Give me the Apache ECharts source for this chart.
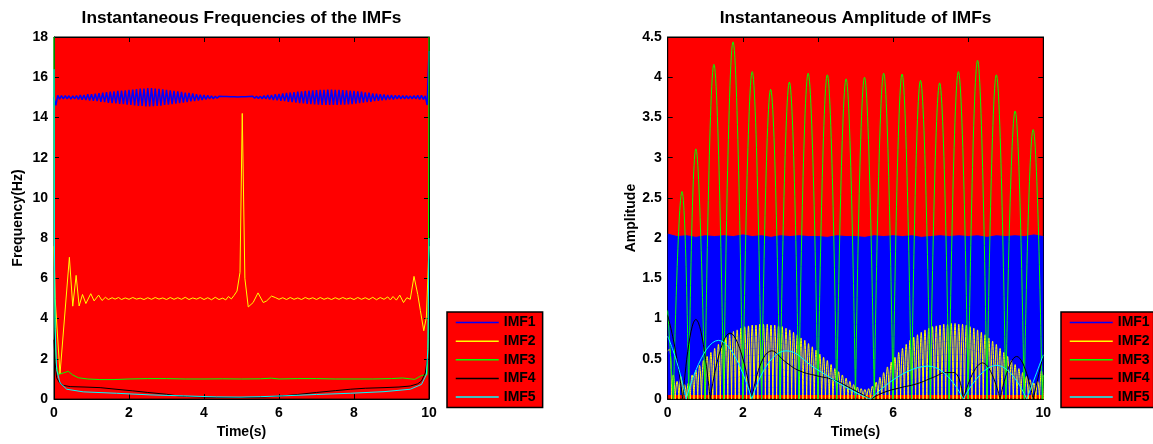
<!DOCTYPE html>
<html><head><meta charset="utf-8">
<script src="https://cdn.jsdelivr.net/npm/echarts@6/dist/echarts.min.js"></script>
<style>html,body{margin:0;padding:0;background:#fff}#c{width:1153px;height:444px}</style>
</head><body><div id="c"></div>
<script>
// ---------- data ----------
const imfNames = ['IMF1', 'IMF2', 'IMF3', 'IMF4', 'IMF5'];
const timeTicks = [0, 2, 4, 6, 8, 10];
const freqTicks = [0, 2, 4, 6, 8, 10, 12, 14, 16, 18];
const ampTicks = [0, 0.5, 1, 1.5, 2, 2.5, 3, 3.5, 4, 4.5];

// IMF1 instantaneous frequency, one value every 0.05 s from 0 to 10 s
const imf1FreqStep = 0.05;
const imf1Freq = [
15.00,14.60,15.10,14.91,15.09,14.92,15.08,14.93,15.08,14.91,15.07,14.93,15.09,14.90,15.11,14.88,15.12,14.87,15.15,14.84,
15.16,14.83,15.18,14.81,15.21,14.78,15.23,14.76,15.26,14.73,15.28,14.71,15.30,14.70,15.32,14.67,15.34,14.66,15.35,14.64,
15.37,14.63,15.39,14.60,15.41,14.58,15.43,14.57,15.44,14.55,15.46,14.55,15.46,14.56,15.43,14.58,15.42,14.59,15.40,14.62,
15.37,14.64,15.35,14.66,15.32,14.69,15.30,14.71,15.27,14.74,15.24,14.76,15.22,14.80,15.19,14.82,15.16,14.84,15.13,14.87,
15.11,14.89,15.10,14.92,15.07,14.93,15.06,14.95,15.05,14.96,15.04,14.96,15.04,14.97,15.03,14.97,15.03,14.97,15.02,14.98,
15.03,14.97,15.03,14.96,15.04,14.96,15.05,14.95,15.05,14.94,15.06,14.93,15.08,14.92,15.11,14.89,15.12,14.87,15.15,14.85,
15.17,14.83,15.19,14.81,15.22,14.78,15.24,14.76,15.26,14.74,15.29,14.71,15.30,14.70,15.32,14.68,15.34,14.66,15.35,14.65,
15.36,14.64,15.37,14.63,15.37,14.63,15.38,14.62,15.38,14.63,15.37,14.63,15.37,14.64,15.36,14.64,15.35,14.65,15.34,14.66,
15.32,14.69,15.30,14.71,15.28,14.74,15.25,14.76,15.23,14.78,15.20,14.81,15.18,14.83,15.16,14.86,15.14,14.87,15.12,14.89,
15.11,14.90,15.10,14.92,15.10,14.92,15.08,14.93,15.08,14.93,15.07,14.93,15.08,14.92,15.10,14.90,15.10,14.90,15.07,14.62,
17.30];

const imf2Freq = [[0,7.6],[0.03,5.0],[0.16,1.25],[0.41,7.05],[0.5,4.62],[0.59,6.15],[0.67,4.63],[0.76,5.2],[0.85,4.75],[0.98,5.24],
[1.07,4.88],[1.19,5.17],[1.28,4.9],[1.37,5.06],[1.45,4.95],[1.55,5.04],[1.63,4.97],[1.72,5.05],[1.8,4.95],[1.9,5.03],[2.0,4.96],
[2.1,5.05],[2.2,4.97],[2.3,5.02],[2.4,4.95],[2.5,5.04],[2.6,4.96],[2.7,5.05],[2.8,4.97],[2.9,5.03],[3.0,4.95],[3.1,5.05],[3.2,4.96],
[3.3,5.04],[3.4,4.96],[3.5,5.06],[3.6,4.95],[3.7,5.03],[3.8,4.97],[3.9,5.05],[4.0,4.95],[4.1,5.04],[4.2,4.94],[4.3,5.06],[4.4,4.95],
[4.5,5.02],[4.58,4.93],[4.65,5.1],[4.73,4.98],[4.8,5.15],[4.88,5.37],[4.96,6.3],[5.02,14.2],[5.09,6.0],[5.18,4.58],[5.31,4.8],
[5.44,5.28],[5.58,4.8],[5.67,4.88],[5.8,5.12],[5.9,5.05],[6.0,4.96],[6.1,5.04],[6.2,4.95],[6.3,5.05],[6.4,4.96],[6.5,5.03],[6.6,4.95],
[6.7,5.05],[6.8,4.97],[6.9,5.04],[7.0,4.95],[7.1,5.05],[7.2,4.96],[7.3,5.03],[7.4,4.95],[7.5,5.04],[7.6,4.96],[7.7,5.05],[7.8,4.97],
[7.9,5.03],[8.0,4.95],[8.1,5.05],[8.2,4.96],[8.3,5.04],[8.4,4.95],[8.5,5.06],[8.6,4.94],[8.7,5.05],[8.8,4.96],[8.9,5.08],[8.97,4.93],
[9.04,5.1],[9.13,4.92],[9.22,5.17],[9.32,4.8],[9.41,5.04],[9.5,4.96],[9.6,6.1],[9.7,5.2],[9.77,4.4],[9.86,3.4],[9.93,4.07],[10,7.6]];

const imf3Freq = [[0,18],[0.01,6],[0.05,1.8],[0.12,1.22],[0.25,1.3],[0.38,1.38],[0.5,1.2],[0.65,1.06],[0.9,1.0],[1.22,0.97],
[1.6,0.97],[2.0,1.0],[2.5,1.02],[3.0,1.02],[3.5,1.0],[4.0,1.0],[4.5,1.01],[5.0,1.0],[5.5,1.01],[5.8,1.04],[6.0,1.0],[6.5,1.02],
[7.0,1.02],[7.5,1.0],[8.0,1.0],[8.5,1.0],[9.0,1.02],[9.3,1.05],[9.62,0.98],[9.8,1.17],[9.95,1.22],[9.98,3],[10,18]];

const imf4Freq = [[0,2.95],[0.03,1.8],[0.07,1.06],[0.15,0.8],[0.25,0.68],[0.43,0.62],[0.8,0.6],[1.23,0.57],[1.6,0.5],[2.1,0.41],
[2.5,0.33],[3.0,0.24],[3.3,0.16],[3.53,0.13],[4.0,0.1],[4.33,0.08],[5.2,0.08],[5.6,0.1],[6.1,0.16],[6.5,0.23],[7.0,0.33],[7.5,0.42],
[7.9,0.49],[8.3,0.54],[8.8,0.57],[9.2,0.6],[9.5,0.65],[9.7,0.76],[9.8,0.9],[9.9,1.3],[9.96,2.03],[9.98,2.0]];

const imf5Freq = [[0,16.4],[0.01,8],[0.03,3.5],[0.07,1.46],[0.16,0.81],[0.34,0.49],[0.78,0.36],[1.67,0.29],[2.56,0.21],[3.45,0.16],
[4.33,0.11],[4.96,0.1],[5.5,0.12],[6.1,0.16],[7.0,0.23],[7.9,0.29],[8.8,0.37],[9.5,0.49],[9.8,0.73],[9.93,1.22],[9.97,2.5],[10,8]];

// IMF1 amplitude: upper edge of the dense band, every 0.25 s
const imf1AmpStep = 0.25;
const imf1AmpTop = [2.05,2.02,2.03,2.01,2.03,2.02,2.03,2.02,2.04,2.02,2.03,2.01,2.03,2.02,2.03,2.02,2.02,2.01,2.03,2.02,
2.02,2.01,2.03,2.02,2.03,2.02,2.03,2.01,2.02,2.03,2.02,2.03,2.02,2.03,2.01,2.03,2.02,2.03,2.02,2.04,2.02];
const imf1AmpFloor = 0.05;

// IMF2 amplitude: one hump every 0.1 s, peak heights
const imf2AmpStep = 0.1;
const imf2AmpStart = 0.6;
const imf2AmpPeaks = [0.62,0.3,0.22,0.28,0.18,0.2,0.3,0.36,0.42,0.48,
0.53,0.58,0.63,0.68,0.72,0.77,0.8,0.84,0.86,0.88,
0.9,0.91,0.92,0.92,0.93,0.93,0.93,0.92,0.92,0.91,
0.9,0.88,0.86,0.83,0.8,0.76,0.73,0.69,0.65,0.61,
0.56,0.52,0.48,0.43,0.38,0.34,0.3,0.26,0.22,0.18,
0.15,0.13,0.12,0.13,0.16,0.21,0.27,0.33,0.4,0.46,
0.52,0.58,0.63,0.68,0.73,0.77,0.8,0.83,0.86,0.88,
0.9,0.91,0.92,0.93,0.93,0.94,0.94,0.93,0.93,0.92,
0.9,0.88,0.86,0.83,0.8,0.76,0.72,0.68,0.63,0.58,
0.53,0.48,0.43,0.38,0.33,0.28,0.24,0.2,0.22,0.35];

// IMF3 amplitude humps
const imf3AmpStart = [0, 1.1];
const imf3AmpEnd = [10, 0.3];
const imf3AmpValleyT = [0.15,0.56,0.99,1.49,2.0,2.5,2.99,3.49,4.0,4.5,5.0,5.5,6.0,6.49,6.99,7.49,8.0,8.5,9.0,9.49,9.97];
const imf3AmpPeakT = [0.38,0.75,1.23,1.74,2.25,2.74,3.24,3.74,4.25,4.75,5.24,5.75,6.24,6.73,7.24,7.74,8.25,8.75,9.25,9.73];
const imf3AmpPeak = [2.58,3.11,4.16,4.44,4.07,3.85,3.94,4.05,4.03,3.98,4.0,4.05,4.04,3.96,3.93,4.07,4.21,4.03,3.58,3.35];

// IMF4 / IMF5 amplitude, arcs between zero crossings
const imf4AmpArcs = [
[[0,1.04],[0.2,0.62],[0.4,0]],
[[0.4,0],[0.75,0.99],[1.13,0]],
[[1.13,0],[1.66,0.82],[2.24,0]],
[[2.24,0],[2.77,0.6],[3.17,0.45],[3.52,0.35],[3.97,0.29],[4.41,0.24],[4.85,0.14],[5.4,0]],
[[5.4,0],[5.74,0.08],[6.18,0.14],[6.63,0.19],[7.07,0.27],[7.43,0.33],[7.62,0.33],[7.87,0]],
[[7.87,0],[8.38,0.45],[8.85,0]],
[[8.85,0],[9.29,0.53],[9.73,0]],
[[9.73,0],[10,0.55]]];
const imf5AmpArcs = [
[[0,0.78],[0.25,0.45],[0.49,0]],
[[0.49,0],[1.35,0.73],[2.24,0]],
[[2.24,0],[3.15,0.6],[3.97,0.37],[4.85,0.12],[5.4,0]],
[[5.4,0],[6.94,0.41],[7.87,0]],
[[7.87,0],[8.76,0.42],[9.56,0]],
[[9.56,0],[10,0.55]]];

// ---------- build series data ----------
const r = v => Math.round(v * 1000) / 1000;
const imf1FreqData = imf1Freq.map((v, i) => [r(i * imf1FreqStep), v]);
const imf1AmpData = imf1AmpTop.map((v, i) => [r(i * imf1AmpStep), v]);
function joinArcs(arcs) {
  const out = [];
  arcs.forEach((a, i) => { if (i) out.push([a[0][0], '-']); a.forEach(p => out.push(p)); });
  return out;
}
const imf2Arcs = imf2AmpPeaks.map((p, k) => [
  [r(k * imf2AmpStep), k === 0 ? imf2AmpStart : 0],
  [r(k * imf2AmpStep + imf2AmpStep / 2), p],
  [r((k + 1) * imf2AmpStep), 0]]);
const imf3Arcs = [[imf3AmpStart, [imf3AmpValleyT[0], 0]]];
imf3AmpPeak.forEach((p, i) => imf3Arcs.push([[imf3AmpValleyT[i], 0], [imf3AmpPeakT[i], p], [imf3AmpValleyT[i + 1], 0]]));
imf3Arcs.push([[imf3AmpValleyT[imf3AmpValleyT.length - 1], 0], imf3AmpEnd]);

// ---------- chart ----------
const FONT = "'Liberation Sans', Arial, Helvetica, sans-serif";
const colors = { IMF1: '#0000ff', IMF2: '#ffff00', IMF3: '#00ff00', IMF4: '#000000', IMF5: '#00ffff' };
const lab = { fontFamily: FONT, fontWeight: 'bold', fontSize: 14, color: '#000' };
const grids = [
  { left: 54, top: 37, width: 375, height: 370 },
  { left: 667.7, top: 37, width: 375.6, height: 370 }];

function xAxes(gi) {
  const base = { type: 'value', gridIndex: gi, min: timeTicks[0], max: timeTicks[timeTicks.length - 1],
    interval: timeTicks[1] - timeTicks[0], splitLine: { show: false },
    axisLine: { show: true, onZero: false, lineStyle: { color: '#000', width: 1 } },
    axisTick: { show: true, inside: true, length: 5, lineStyle: { color: '#000' } } };
  return [
    Object.assign({}, base, { position: 'bottom', axisLabel: Object.assign({ margin: 7 }, lab),
      name: 'Time(s)', nameLocation: 'middle', nameGap: 24, nameTextStyle: lab }),
    Object.assign({}, base, { position: 'top', axisLabel: { show: false } })];
}
function yAxes(gi, ticks, name, gap) {
  const base = { type: 'value', gridIndex: gi, min: ticks[0], max: ticks[ticks.length - 1],
    interval: r(ticks[1] - ticks[0]), splitLine: { show: false },
    axisLine: { show: true, onZero: false, lineStyle: { color: '#000', width: 1 } },
    axisTick: { show: true, inside: true, length: 5, lineStyle: { color: '#000' } } };
  return [
    Object.assign({}, base, { position: 'left', axisLabel: Object.assign({ margin: 6 }, lab),
      name: name, nameLocation: 'middle', nameGap: gap, nameTextStyle: lab }),
    Object.assign({}, base, { position: 'right', axisLabel: { show: false } })];
}
function line(name, data, xi, yi, extra) {
  return Object.assign({ type: 'line', name: name, data: data, xAxisIndex: xi, yAxisIndex: yi,
    symbol: 'none', showSymbol: false, silent: true, animation: false, clip: true,
    emphasis: { disabled: true }, lineStyle: { color: colors[name], width: 1 }, itemStyle: { color: colors[name] } }, extra || {});
}
function legend(left, pad) {
  return { left: left, top: 312, orient: 'vertical', data: imfNames, selectedMode: false,
    backgroundColor: '#ff0000', borderColor: '#000', borderWidth: 1.5, padding: pad,
    itemWidth: 43, itemHeight: 14, itemGap: 4.6,
    itemStyle: { color: 'rgba(0,0,0,0)', borderWidth: 0, opacity: 0 },
    lineStyle: { width: 1.5 },
    textStyle: { fontFamily: FONT, fontWeight: 'bold', fontSize: 14, color: '#000' } };
}

const option = {
  animation: false,
  backgroundColor: '#fff',
  title: [
    { text: 'Instantaneous Frequencies of the IMFs', left: 241.5, top: 10, textAlign: 'center', padding: 0,
      textStyle: { fontFamily: FONT, fontWeight: 'bold', fontSize: 17.3, color: '#000' } },
    { text: 'Instantaneous Amplitude of IMFs', left: 855.5, top: 10, textAlign: 'center', padding: 0,
      textStyle: { fontFamily: FONT, fontWeight: 'bold', fontSize: 17.3, color: '#000' } }],
  legend: [legend(447, [3.6, 7, 3.6, 8]), legend(1061, [3.6, 4, 3.6, 8])],
  grid: grids.map(g => Object.assign({ show: true, backgroundColor: '#ff0000', borderColor: '#000', borderWidth: 1 }, g)),
  xAxis: xAxes(0).concat(xAxes(1)),
  yAxis: yAxes(0, freqTicks, 'Frequency(Hz)', 29).concat(yAxes(1, ampTicks, 'Amplitude', 30)),
  series: [
    line('IMF1', imf1FreqData, 0, 0, { lineStyle: { color: colors.IMF1, width: 1.5 } }),
    line('IMF2', imf2Freq, 0, 0),
    line('IMF3', imf3Freq, 0, 0),
    line('IMF4', imf4Freq, 0, 0),
    line('IMF5', imf5Freq, 0, 0),
    line('IMF1', imf1AmpData, 2, 2, { areaStyle: { color: '#0000ff', opacity: 1, origin: imf1AmpFloor } }),
    line('IMF2', joinArcs(imf2Arcs), 2, 2, { smooth: 0.5 }),
    line('IMF3', joinArcs(imf3Arcs), 2, 2, { smooth: 0.5 }),
    line('IMF4', joinArcs(imf4AmpArcs), 2, 2, { smooth: 0.5 }),
    line('IMF5', joinArcs(imf5AmpArcs), 2, 2, { smooth: 0.5 })]
};
const chart = echarts.init(document.getElementById('c'), null, { renderer: 'canvas' });
chart.setOption(option);
</script></body></html>
